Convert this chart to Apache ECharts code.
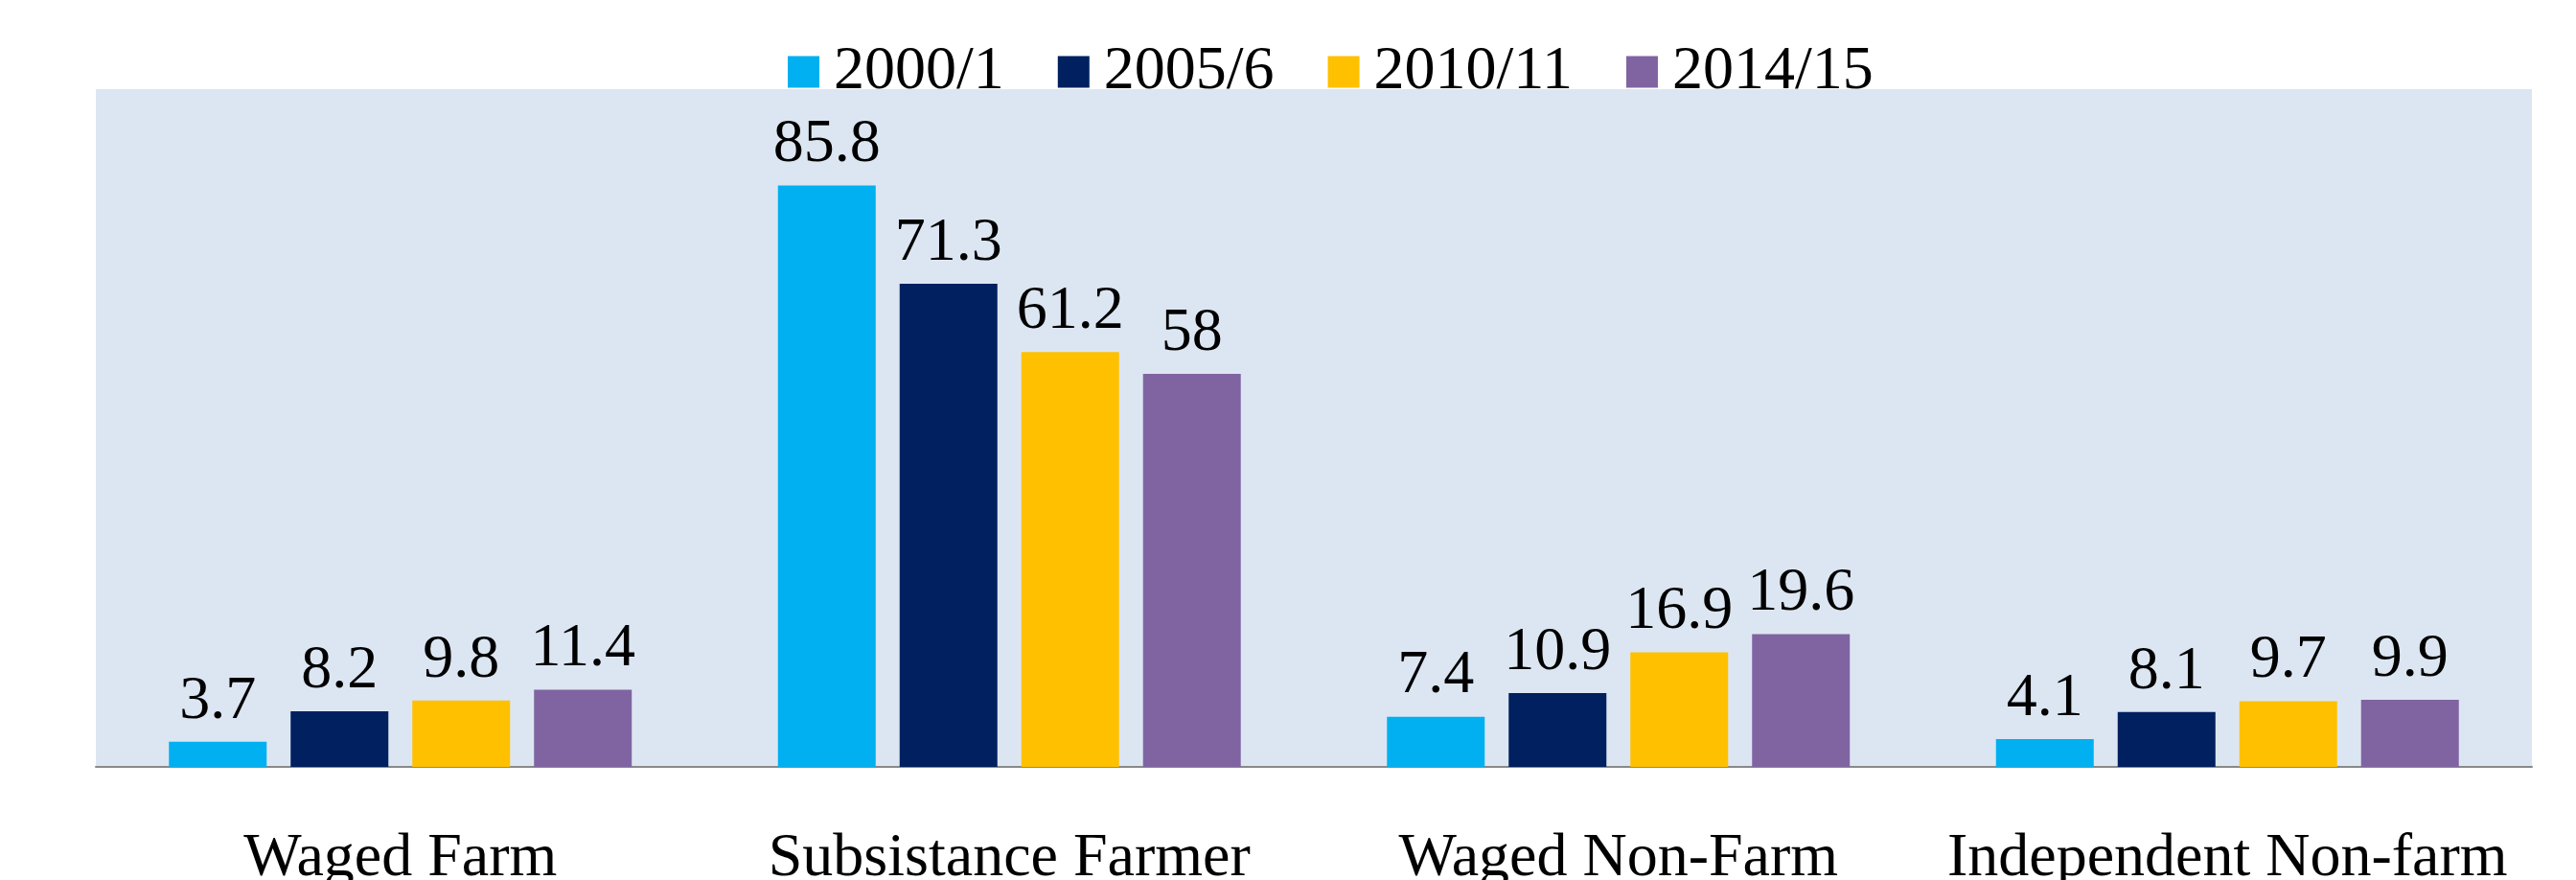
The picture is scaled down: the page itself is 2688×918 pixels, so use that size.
<!DOCTYPE html>
<html>
<head>
<meta charset="utf-8">
<script src="https://cdn.jsdelivr.net/npm/echarts@6/dist/echarts.min.js"></script>
<style>
  html, body { margin: 0; padding: 0; background: #fff; }
  #chart { width: 2688px; height: 918px; }
</style>
</head>
<body>
<div id="chart"></div>
<script>
const categories = ['Waged Farm', 'Subsistance Farmer', 'Waged Non-Farm', 'Independent Non-farm'];
const seriesNames = ['2000/1', '2005/6', '2010/11', '2014/15'];
const s2000 = [3.7, 85.8, 7.4, 4.1];
const s2005 = [8.2, 71.3, 10.9, 8.1];
const s2010 = [9.8, 61.2, 16.9, 9.7];
const s2014 = [11.4, 58, 19.6, 9.9];
const colors = ['#00B0F0', '#002060', '#FFC000', '#8064A2'];

const font = 'Liberation Serif';
const chart = echarts.init(document.getElementById('chart'), null, { renderer: 'canvas' });

const values = [s2000, s2005, s2010, s2014];

chart.setOption({
  animation: false,
  textStyle: { fontFamily: font },
  legend: {
    data: seriesNames,
    left: 822,
    top: 43,
    padding: 0,
    itemWidth: 33,
    itemHeight: 33,
    itemGap: 56,
    icon: 'rect',
    textStyle: { fontFamily: font, fontSize: 64, color: '#000', padding: [0, 0, 0, 10] },
  },
  grid: {
    left: 100,
    right: 46,
    top: 93,
    bottom: 118,
    outerBoundsMode: 'none',
    containLabel: false,
    show: true,
    backgroundColor: '#DCE6F2',
    borderWidth: 0,
  },
  xAxis: {
    type: 'category',
    data: categories,
    axisLine: { lineStyle: { color: '#898989', width: 2 } },
    axisTick: { show: false },
    axisLabel: { fontFamily: font, fontSize: 64, color: '#000', margin: 64, interval: 0 },
  },
  yAxis: {
    type: 'value',
    min: 0,
    max: 100,
    show: false,
    splitLine: { show: false },
  },
  series: seriesNames.map((name, i) => ({
    name,
    type: 'bar',
    data: values[i],
    barWidth: 102,
    barGap: '24.5%',
    itemStyle: { color: colors[i] },
    label: {
      show: true,
      position: 'top',
      distance: 10,
      fontFamily: font,
      fontSize: 64,
      color: '#000',
    },
  })),
});
</script>
</body>
</html>
